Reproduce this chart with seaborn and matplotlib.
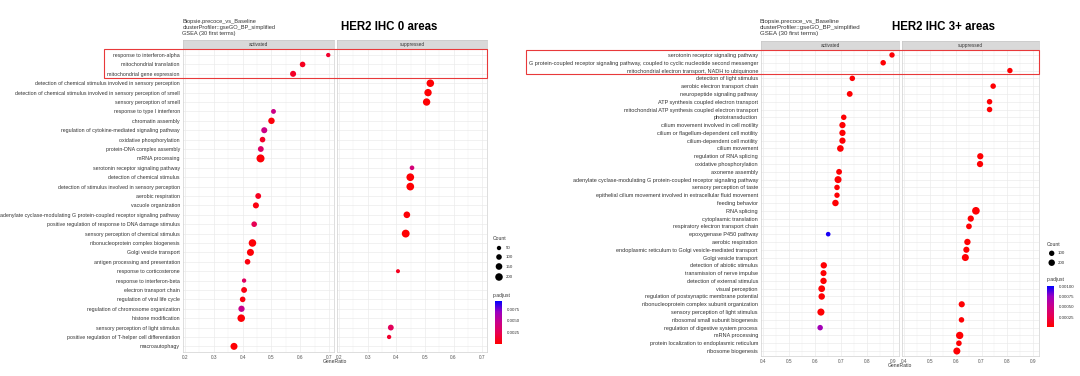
import numpy as np
import pandas as pd
import matplotlib
matplotlib.use("Agg")
import matplotlib.pyplot as plt
import seaborn as sns
from matplotlib.colors import LinearSegmentedColormap, Normalize
from matplotlib.patches import Rectangle
import matplotlib.transforms as mtransforms
from matplotlib.ticker import FixedLocator

# ---------------- data : HER2 IHC 0 ----------------
left_terms = [
    "response to interferon-alpha", "mitochondrial translation", "mitochondrial gene expression",
    "detection of chemical stimulus involved in sensory perception",
    "detection of chemical stimulus involved in sensory perception of smell",
    "sensory perception of smell", "response to type I interferon", "chromatin assembly",
    "regulation of cytokine-mediated signaling pathway", "oxidative phosphorylation",
    "protein-DNA complex assembly", "mRNA processing", "serotonin receptor signaling pathway",
    "detection of chemical stimulus", "detection of stimulus involved in sensory perception",
    "aerobic respiration", "vacuole organization",
    "adenylate cyclase-modulating G protein-coupled receptor signaling pathway",
    "positive regulation of response to DNA damage stimulus",
    "sensory perception of chemical stimulus", "ribonucleoprotein complex biogenesis",
    "Golgi vesicle transport", "antigen processing and presentation",
    "response to corticosterone", "response to interferon-beta", "electron transport chain",
    "regulation of viral life cycle", "regulation of chromosome organization",
    "histone modification", "sensory perception of light stimulus",
    "positive regulation of T-helper cell differentiation", "macroautophagy",
]
left_act_terms = [
    "response to interferon-alpha", "mitochondrial translation", "mitochondrial gene expression",
    "response to type I interferon", "chromatin assembly",
    "regulation of cytokine-mediated signaling pathway", "oxidative phosphorylation",
    "protein-DNA complex assembly", "mRNA processing", "aerobic respiration",
    "vacuole organization", "positive regulation of response to DNA damage stimulus",
    "ribonucleoprotein complex biogenesis", "Golgi vesicle transport",
    "antigen processing and presentation", "response to interferon-beta",
    "electron transport chain", "regulation of viral life cycle",
    "regulation of chromosome organization", "histone modification", "macroautophagy",
]
left_act_ratio = [0.697, 0.608, 0.575, 0.507, 0.500, 0.475, 0.469, 0.463, 0.462, 0.454, 0.446,
                  0.440, 0.434, 0.427, 0.417, 0.405, 0.405, 0.400, 0.396, 0.395, 0.370]
left_act_count = [50, 100, 120, 70, 140, 120, 100, 110, 230, 110, 120,
                  100, 200, 170, 100, 50, 110, 100, 130, 200, 170]
left_act_padj = [0.0014, 0.0010, 0.0012, 0.0045, 0.0004, 0.0045, 0.0012, 0.0032, 0.0003, 0.0010, 0.0005,
                 0.0025, 0.0003, 0.0003, 0.0005, 0.0030, 0.0006, 0.0005, 0.0048, 0.0003, 0.0002]
left_sup_terms = [
    "detection of chemical stimulus involved in sensory perception",
    "detection of chemical stimulus involved in sensory perception of smell",
    "sensory perception of smell", "serotonin receptor signaling pathway",
    "detection of chemical stimulus", "detection of stimulus involved in sensory perception",
    "adenylate cyclase-modulating G protein-coupled receptor signaling pathway",
    "sensory perception of chemical stimulus", "response to corticosterone",
    "sensory perception of light stimulus", "positive regulation of T-helper cell differentiation",
]
left_sup_ratio = [0.519, 0.511, 0.506, 0.455, 0.449, 0.449, 0.437, 0.433, 0.406, 0.381, 0.375]
left_sup_count = [200, 190, 190, 60, 210, 210, 150, 220, 40, 110, 50]
left_sup_padj = [0.0002, 0.0002, 0.0002, 0.0040, 0.0002, 0.0002, 0.0003, 0.0002, 0.0010, 0.0028, 0.0014]
left_xticks = [0.2, 0.3, 0.4, 0.5, 0.6, 0.7]
left_count_legend = [50, 100, 150, 200]
left_padj_ticks = [0.0025, 0.0050, 0.0075]
left_padj_labels = ["0.0025", "0.0050", "0.0075"]

# ---------------- data : HER2 IHC 3+ ----------------
right_terms = [
    "serotonin receptor signaling pathway",
    "G protein-coupled receptor signaling pathway, coupled to cyclic nucleotide second messenger",
    "mitochondrial electron transport, NADH to ubiquinone", "detection of light stimulus",
    "aerobic electron transport chain", "neuropeptide signaling pathway",
    "ATP synthesis coupled electron transport",
    "mitochondrial ATP synthesis coupled electron transport", "phototransduction",
    "cilium movement involved in cell motility", "cilium or flagellum-dependent cell motility",
    "cilium-dependent cell motility", "cilium movement", "regulation of RNA splicing",
    "oxidative phosphorylation", "axoneme assembly",
    "adenylate cyclase-modulating G protein-coupled receptor signaling pathway",
    "sensory perception of taste",
    "epithelial cilium movement involved in extracellular fluid movement", "feeding behavior",
    "RNA splicing", "cytoplasmic translation", "respiratory electron transport chain",
    "epoxygenase P450 pathway", "aerobic respiration",
    "endoplasmic reticulum to Golgi vesicle-mediated transport", "Golgi vesicle transport",
    "detection of abiotic stimulus", "transmission of nerve impulse",
    "detection of external stimulus", "visual perception",
    "regulation of postsynaptic membrane potential",
    "ribonucleoprotein complex subunit organization", "sensory perception of light stimulus",
    "ribosomal small subunit biogenesis", "regulation of digestive system process",
    "mRNA processing", "protein localization to endoplasmic reticulum", "ribosome biogenesis",
]
right_act_terms = [
    "serotonin receptor signaling pathway",
    "G protein-coupled receptor signaling pathway, coupled to cyclic nucleotide second messenger",
    "detection of light stimulus", "neuropeptide signaling pathway", "phototransduction",
    "cilium movement involved in cell motility", "cilium or flagellum-dependent cell motility",
    "cilium-dependent cell motility", "cilium movement", "axoneme assembly",
    "adenylate cyclase-modulating G protein-coupled receptor signaling pathway",
    "sensory perception of taste",
    "epithelial cilium movement involved in extracellular fluid movement", "feeding behavior",
    "epoxygenase P450 pathway", "detection of abiotic stimulus", "transmission of nerve impulse",
    "detection of external stimulus", "visual perception",
    "regulation of postsynaptic membrane potential", "sensory perception of light stimulus",
    "regulation of digestive system process",
]
right_act_ratio = [0.896, 0.862, 0.743, 0.733, 0.710, 0.705, 0.705, 0.705, 0.697, 0.692, 0.688,
                   0.684, 0.684, 0.678, 0.650, 0.633, 0.632, 0.632, 0.625, 0.625, 0.622, 0.619]
right_act_count = [100, 110, 110, 140, 110, 180, 180, 180, 220, 140, 260,
                   110, 100, 200, 40, 190, 160, 190, 230, 200, 270, 110]
right_act_padj = [0.00003, 0.00002, 0.00002, 0.00002, 0.00002, 0.00002, 0.00002, 0.00002, 0.00002,
                  0.00002, 0.00002, 0.00002, 0.00002, 0.00002, 0.00098, 0.00002, 0.00002, 0.00002,
                  0.00002, 0.00002, 0.00002, 0.00072]
right_sup_terms = [
    "mitochondrial electron transport, NADH to ubiquinone", "aerobic electron transport chain",
    "ATP synthesis coupled electron transport",
    "mitochondrial ATP synthesis coupled electron transport", "regulation of RNA splicing",
    "oxidative phosphorylation", "RNA splicing", "cytoplasmic translation",
    "respiratory electron transport chain", "aerobic respiration",
    "endoplasmic reticulum to Golgi vesicle-mediated transport", "Golgi vesicle transport",
    "ribonucleoprotein complex subunit organization", "ribosomal small subunit biogenesis",
    "mRNA processing", "protein localization to endoplasmic reticulum", "ribosome biogenesis",
]
right_sup_ratio = [0.810, 0.745, 0.731, 0.731, 0.695, 0.694, 0.678, 0.658, 0.651, 0.645, 0.641,
                   0.637, 0.623, 0.622, 0.615, 0.612, 0.604]
right_sup_count = [100, 110, 110, 110, 180, 180, 330, 180, 130, 190, 170, 260, 170, 110, 300, 120, 260]
right_sup_padj = [0.00002] * 17
right_xticks = [0.4, 0.5, 0.6, 0.7, 0.8, 0.9]
right_count_legend = [100, 200]
right_padj_ticks = [0.00025, 0.00050, 0.00075, 0.00100]
right_padj_labels = ["0.00025", "0.00050", "0.00075", "0.00100"]

facet_names = ["activated", "suppressed"]
subtitle = "Biopsie.precoce_vs_Baseline\nclusterProfiler::gseGO_BP_simplified\nGSEA (30 first terms)"

# ---------------- style ----------------
sns.set_style("white")
plt.rcParams["font.family"] = ["Liberation Sans", "DejaVu Sans"]

W, H = 1080, 376
fig = plt.figure(figsize=(W / 100, H / 100), dpi=100)
fig.patch.set_facecolor("white")

cmap = LinearSegmentedColormap.from_list(
    "padj", ["#FF0000", "#E80050", "#CA0089", "#9A00C2", "#0000FF"])


def fbox(x0, y0, x1, y1):
    """pixel box (top-left origin) -> figure fraction rect"""
    return [x0 / W, 1 - y1 / H, (x1 - x0) / W, (y1 - y0) / H]


def draw_chart(terms, facets, xlim, xticks, geom, size_rng, size_norm, pnorm,
               ylab_fs, title, title_x, sub_x, sub_fs, leg):
    (ax_x, y_top, y_bot, strip_top) = geom
    axes = []
    n = len(terms)
    for i, (fname, (ft, fr, fc, fp)) in enumerate(zip(facet_names, facets)):
        x0, x1 = ax_x[i]
        ax = fig.add_axes(fbox(x0, y_top, x1, y_bot))
        df = pd.DataFrame({
            "term": pd.Categorical(ft, categories=terms),
            "GeneRatio": fr, "Count": fc, "p.adjust": fp,
        })
        sns.scatterplot(data=df, x="GeneRatio", y="term", hue="p.adjust", size="Count",
                        palette=cmap, hue_norm=pnorm, sizes=size_rng, size_norm=size_norm,
                        linewidth=0, legend=False, ax=ax, zorder=3)
        ax.set_ylim(n - 1 + 0.6, -0.6)
        ax.set_xlim(*xlim)
        ax.set_yticks(range(n))
        ax.set_xticks(xticks)
        ax.xaxis.set_minor_locator(FixedLocator([t + 0.05 for t in xticks[:-1]]))
        ax.set_xticklabels([f"{t:.1f}" for t in xticks])
        ax.grid(which="major", color="#EBEBEB", lw=0.5)
        ax.grid(which="minor", axis="x", color="#F2F2F2", lw=0.35)
        ax.set_axisbelow(True)
        ax.set_xlabel("")
        ax.set_ylabel("")
        for s in ax.spines.values():
            s.set_color("#D0D0D0")
            s.set_linewidth(0.5)
        ax.tick_params(axis="x", labelsize=3.4, length=1.2, width=0.3, pad=1,
                       colors="#555555")
        ax.tick_params(axis="x", which="minor", length=0)
        if i == 0:
            ax.set_yticklabels(terms)
            ax.tick_params(axis="y", labelsize=ylab_fs, length=1.2, width=0.3, pad=1,
                           color="#333333", labelcolor="#333333")
        else:
            ax.tick_params(axis="y", labelleft=False, length=0)
        # strip
        sax = fig.add_axes(fbox(x0, strip_top, x1, y_top))
        sax.set_facecolor("#D9D9D9")
        sax.set_xticks([])
        sax.set_yticks([])
        for s in sax.spines.values():
            s.set_color("#C8C8C8")
            s.set_linewidth(0.5)
        sax.text(0.5, 0.5, fname, ha="center", va="center", fontsize=3.4,
                 color="#333333", transform=sax.transAxes)
        axes.append(ax)
    # x label
    xc = (ax_x[0][0] + ax_x[1][1]) / 2
    fig.text(xc / W, 1 - (y_bot + 9.5) / H, "GeneRatio", ha="center", va="center",
             fontsize=3.6, color="#333333")
    # titles
    fig.text(sub_x / W, 1 - 27.3 / H, subtitle, ha="left", va="center", fontsize=sub_fs,
             color="#333333", linespacing=1.2)
    fig.text(title_x / W, 1 - 27 / H, title, ha="left", va="center", fontsize=8.3,
             fontweight="bold", color="black")
    # legends
    (ct_x, ct_y, dot_x, dot_ys, lab_x, pt_y, cb_box, pticks, plabels, counts) = leg
    fig.text(ct_x / W, 1 - ct_y / H, "Count", fontsize=3.6, color="#333333",
             ha="left", va="center")
    lax = fig.add_axes([0, 0, 1, 1], facecolor="none")
    ldf = pd.DataFrame({"x": [dot_x] * len(counts), "y": dot_ys, "Count": counts})
    sns.scatterplot(data=ldf, x="x", y="y", size="Count", sizes=size_rng, size_norm=size_norm,
                    color="black", linewidth=0, legend=False, ax=lax)
    lax.set_xlim(0, W)
    lax.set_ylim(H, 0)
    lax.axis("off")
    for c, yy in zip(counts, dot_ys):
        fig.text(lab_x / W, 1 - yy / H, str(c), fontsize=3.2, color="#333333",
                 ha="left", va="center")
    fig.text(ct_x / W, 1 - pt_y / H, "p.adjust", fontsize=3.6, color="#333333",
             ha="left", va="center")
    cax = fig.add_axes(fbox(*cb_box))
    cb = fig.colorbar(plt.cm.ScalarMappable(norm=pnorm, cmap=cmap), cax=cax)
    cb.outline.set_visible(False)
    cb.set_ticks(pticks)
    cb.set_ticklabels(plabels)
    cax.tick_params(labelsize=3.2, length=1.5, width=0.4, color="white", pad=2,
                    labelcolor="#333333")
    return axes


left_axes = draw_chart(
    left_terms,
    [(left_act_terms, left_act_ratio, left_act_count, left_act_padj),
     (left_sup_terms, left_sup_ratio, left_sup_count, left_sup_padj)],
    xlim=(0.193, 0.717), xticks=left_xticks,
    geom=([(183, 334), (337, 487)], 49.4, 352, 40.5),
    size_rng=(3.2, 36.0), size_norm=(0, 250), pnorm=Normalize(0.0001, 0.0092),
    ylab_fs=3.75, title="HER2 IHC 0 areas", title_x=341, sub_x=182.5, sub_fs=4.1,
    leg=(493, 238, 499, [248, 257, 266.5, 277], 506, 295, (495, 301, 502, 344),
         left_padj_ticks, left_padj_labels, left_count_legend),
)
right_axes = draw_chart(
    right_terms,
    [(right_act_terms, right_act_ratio, right_act_count, right_act_padj),
     (right_sup_terms, right_sup_ratio, right_sup_count, right_sup_padj)],
    xlim=(0.391, 0.923), xticks=right_xticks,
    geom=([(761, 899), (902, 1039)], 50.3, 355.7, 41),
    size_rng=(8.5, 31.5), size_norm=(0, 350), pnorm=Normalize(0.00001, 0.00102),
    ylab_fs=4.0, title="HER2 IHC 3+ areas", title_x=892, sub_x=760, sub_fs=4.4,
    leg=(1047, 244, 1051.7, [253.3, 262.7], 1058, 280, (1047, 286, 1054, 326.7),
         right_padj_ticks, right_padj_labels, right_count_legend),
)

# red highlight boxes around the first three terms
fig.canvas.draw()
renderer = fig.canvas.get_renderer()
for axes_pair in (left_axes, right_axes):
    ax0, ax1 = axes_pair
    labs = ax0.get_yticklabels()[:3]
    xmin_px = min(l.get_window_extent(renderer).x0 for l in labs) - 3
    xmax_px = ax1.get_window_extent(renderer).x1
    trans = mtransforms.blended_transform_factory(fig.transFigure, ax0.transData)
    rect = Rectangle((xmin_px / W, -0.6), (xmax_px - xmin_px) / W, 3.05,
                     transform=trans, fill=False, edgecolor="#E8393A", lw=0.8,
                     clip_on=False, zorder=10)
    fig.add_artist(rect)

fig.savefig("out.png", dpi=100, facecolor="white")
